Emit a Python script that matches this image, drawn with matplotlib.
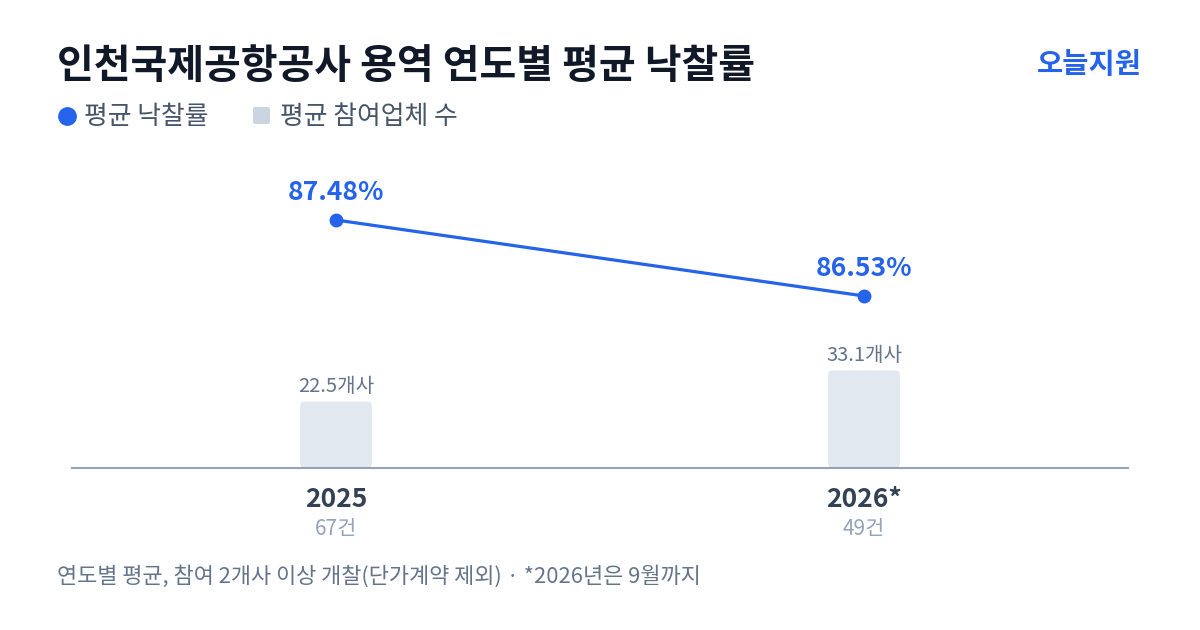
import matplotlib
matplotlib.use("Agg")
import matplotlib.pyplot as plt
from matplotlib.patches import FancyBboxPatch
from matplotlib.lines import Line2D

plt.rcParams['font.family'] = ['Noto Sans CJK KR', 'DejaVu Sans']

years = ['2025', '2026*']
counts = ['67건', '49건']
avg_rate = [87.48, 86.53]
avg_bidders = [22.5, 33.1]

BLUE = '#2563eb'
BAR = '#e2e8f0'
DARK = '#111827'

fig = plt.figure(figsize=(12, 6.3), dpi=100)
ax = fig.add_axes([72 / 1200, (630 - 468) / 630, 1056 / 1200, 318 / 630])
ax2 = ax.twinx()

x = list(range(len(years)))

# bars (participants)
bars = ax.bar(x, avg_bidders, width=0.136, color=BAR, zorder=1)
for b in bars:
    b.set_visible(False)
    rb = FancyBboxPatch((b.get_x(), b.get_y()), b.get_width(), b.get_height(),
                        boxstyle='round,pad=0,rounding_size=0.009',
                        mutation_aspect=180, facecolor=BAR, edgecolor='none')
    ax.add_patch(rb)
for xi, v in zip(x, avg_bidders):
    ax.annotate(f'{v}개사', (xi, v), xytext=(0, 15), textcoords='offset pixels',
                ha='center', va='center', fontsize=14.5, color='#64748b')
ax.set_ylim(0, 107.8)
ax.set_xlim(-0.5, 1.5)

# line (winning rate)
ax2.plot(x, avg_rate, color=BLUE, lw=2.3, marker='o', ms=9, zorder=3)
for xi, v in zip(x, avg_rate):
    ax2.annotate(f'{v:.2f}%', (xi, v), xytext=(0, 27), textcoords='offset pixels',
                 ha='center', va='center', fontsize=19, fontweight='bold', color=BLUE)
ax2.set_ylim(84.38, 88.355)

for a in (ax, ax2):
    for s in a.spines.values():
        s.set_visible(False)
    a.set_yticks([])
ax.spines['bottom'].set_visible(True)
ax.spines['bottom'].set_color('#94a3b8')
ax.spines['bottom'].set_linewidth(1.5)

ax.set_xticks(x)
ax.set_xticklabels(years, fontsize=19, fontweight='bold', color='#334155')
ax.tick_params(axis='x', length=0, pad=13)
for xi, c in zip(x, counts):
    ax.annotate(c, (xi, 0), xytext=(0, -61), textcoords='offset pixels',
                ha='center', va='center', fontsize=15, color='#94a3b8')

# title, brand, legend, footer
fig.text(57 / 1200, 1 - 67 / 630, '인천국제공항공사 용역 연도별 평균 낙찰률',
         fontsize=28.8, fontweight='bold', color=DARK, va='center', ha='left')
fig.text(1142 / 1200, 1 - 65 / 630, '오늘지원', fontsize=20.5, fontweight='bold',
         color=BLUE, va='center', ha='right')

fig.add_artist(Line2D([67 / 1200], [1 - 116 / 630], marker='o', ms=12.5,
                      color=BLUE, transform=fig.transFigure))
fig.text(84 / 1200, 1 - 116 / 630, '평균 낙찰률', fontsize=18.6, color='#475569',
         va='center', ha='left')
fig.add_artist(FancyBboxPatch((253 / 1200, 1 - 124 / 630), 17 / 1200, 17 / 630,
                              boxstyle='round,pad=0,rounding_size=0.002',
                              mutation_aspect=1200 / 630,
                              facecolor='#cbd5e1', edgecolor='none',
                              transform=fig.transFigure))
fig.text(280 / 1200, 1 - 116 / 630, '평균 참여업체 수', fontsize=18.6, color='#475569',
         va='center', ha='left')

fig.text(57 / 1200, 1 - 576 / 630,
         '연도별 평균, 참여 2개사 이상 개찰(단가계약 제외) · *2026년은 9월까지',
         fontsize=15.8, color='#64748b', va='center', ha='left')

fig.savefig('out.png', dpi=100, facecolor='white')
